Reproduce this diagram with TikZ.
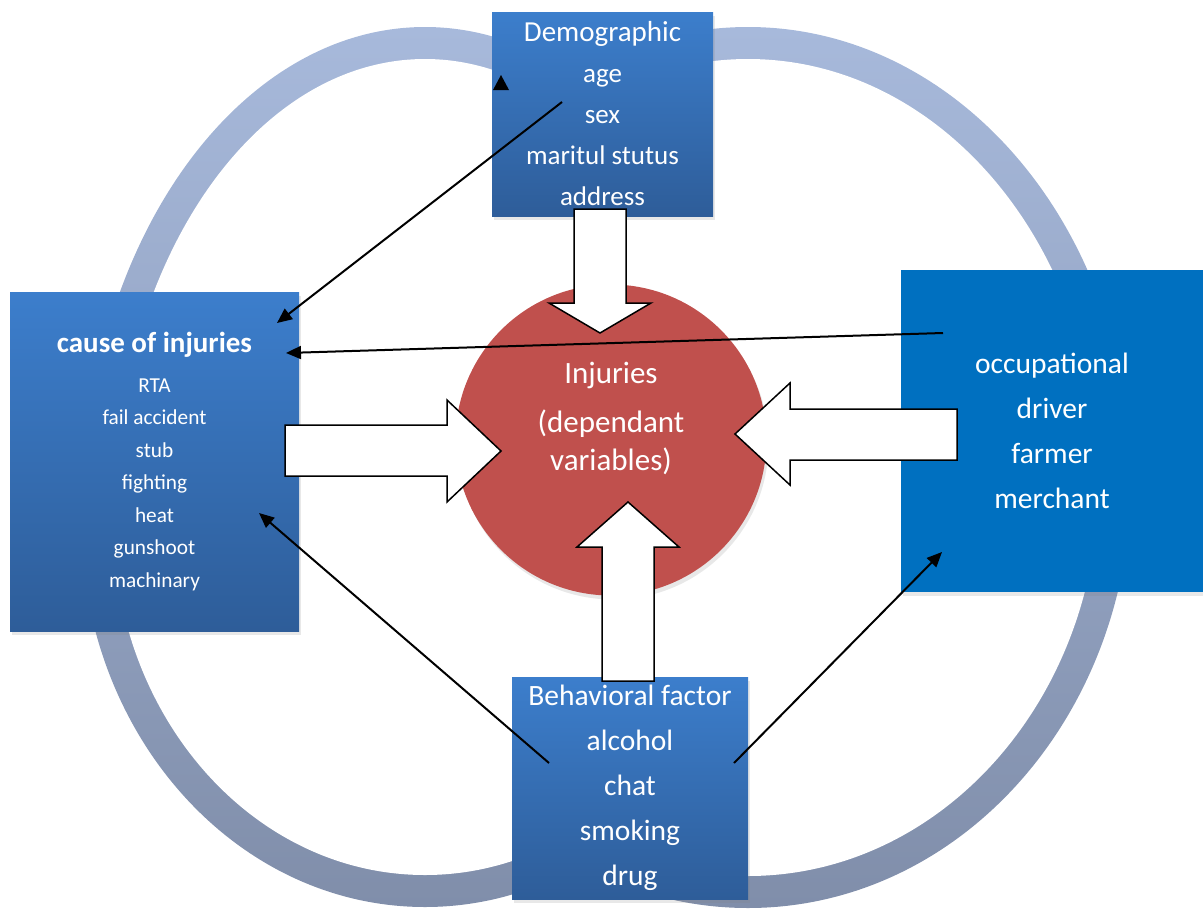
\documentclass[tikz,border=0pt]{standalone}
\usepackage{fontspec}
\setmainfont{Carlito}
\usetikzlibrary{arrows.meta,shadows}

\definecolor{boxtop}{RGB}{60,126,204}
\definecolor{boxbot}{RGB}{46,93,153}
\definecolor{occblue}{RGB}{0,112,192}
\definecolor{injred}{RGB}{192,80,77}
\definecolor{ringtop}{RGB}{167,185,219}
\definecolor{ringbot}{RGB}{128,142,170}

\tikzset{
  factor/.style={inner sep=0pt, text=white, align=center,
    drop shadow={opacity=0.18, shadow xshift=2pt, shadow yshift=-4pt}},
  grad/.style={top color=boxtop, bottom color=boxbot},
  blockarrow/.style={fill=white, draw=black, line width=1.5pt},
  link/.style={line width=2pt, -{Triangle[length=15pt,width=13pt]}}
}

\begin{document}
\begin{tikzpicture}[x=1pt,y=-1pt]
\useasboundingbox (0,0) rectangle (1203,911);

% ring behind everything
\shade[top color=ringtop, bottom color=ringbot]
  (425,27) arc[start angle=-90, end angle=0, x radius=344, y radius=493]
           arc[start angle=0, end angle=90, x radius=344, y radius=387]
           arc[start angle=90, end angle=180, x radius=344, y radius=387]
           arc[start angle=180, end angle=270, x radius=344, y radius=493]
  (748,27) arc[start angle=-90, end angle=0, x radius=383, y radius=453]
           arc[start angle=0, end angle=90, x radius=383, y radius=428]
           arc[start angle=90, end angle=180, x radius=383, y radius=428]
           arc[start angle=180, end angle=270, x radius=383, y radius=453];
\fill[white]
  (425,59) arc[start angle=-90, end angle=0, x radius=312, y radius=461]
           arc[start angle=0, end angle=90, x radius=312, y radius=355]
           arc[start angle=90, end angle=180, x radius=312, y radius=355]
           arc[start angle=180, end angle=270, x radius=312, y radius=461]
  (748,59) arc[start angle=-90, end angle=0, x radius=351, y radius=421]
           arc[start angle=0, end angle=90, x radius=351, y radius=396]
           arc[start angle=90, end angle=180, x radius=351, y radius=396]
           arc[start angle=180, end angle=270, x radius=351, y radius=421];

% dependent variable
\node[circle, fill=injred, minimum size=311pt, inner sep=0pt,
      drop shadow={opacity=0.18, shadow xshift=2pt, shadow yshift=-4pt}] (inj) at (611,440) {};
\node[text=white, align=center, font=\fontsize{31}{38}\selectfont] (injtxt) at (611,418)
     {Injuries\\[11pt](dependant\\variables)};

% factors
\node[factor, grad, minimum width=221pt, minimum height=204pt,
      font=\fontsize{27}{41}\selectfont] (demo) at (602.5,114)
     {{\fontsize{29}{41}\selectfont Demographic}\\age\\sex\\maritul stutus\\address};
\node[factor, grad, minimum width=289pt, minimum height=339pt,
      font=\fontsize{21.3}{32.5}\selectfont] (cause) at (154.5,461.5)
     {{\fontsize{29}{32.5}\selectfont\bfseries cause of injuries}\\[7.5pt]RTA\\fail accident\\stub\\fighting\\heat\\gunshoot\\machinary};
\node[factor, fill=occblue, minimum width=302pt, minimum height=322pt,
      font=\fontsize{29.5}{45}\selectfont] (occup) at (1052,431)
     {occupational\\driver\\farmer\\merchant};
\node[factor, grad, minimum width=236pt, minimum height=222pt,
      font=\fontsize{29.5}{45}\selectfont] (behav) at (630,788)
     {Behavioral factor\\alcohol\\chat\\smoking\\drug};

% block arrows into the circle
\draw[blockarrow] (574,209) -- (626,209) -- (626,303) -- (651,303) -- (600,333) -- (549,303) -- (574,303) -- cycle;
\draw[blockarrow] (285,425) -- (447,425) -- (447,400) -- (501,451) -- (447,502) -- (447,476) -- (285,476) -- cycle;
\draw[blockarrow] (957,409) -- (790,409) -- (790,383) -- (735,434) -- (790,485) -- (790,460) -- (957,460) -- cycle;
\draw[blockarrow] (602,681) -- (602,547) -- (577,547) -- (628,502) -- (679,547) -- (654,547) -- (654,681) -- cycle;

% thin links
\coordinate (demoout) at (562,102);
\coordinate (occupout) at (943,333);
\coordinate (behavoutl) at (549,763);
\coordinate (behavoutr) at (734,763);
\coordinate (causein1) at (277,323);
\coordinate (causein2) at (286,353);
\coordinate (causein3) at (259,513);
\coordinate (occupin) at (942,552);
\draw[link] (demoout) -- (causein1);
\draw[link] (occupout) -- (causein2);
\draw[link] (behavoutl) -- (causein3);
\draw[link] (behavoutr) -- (occupin);
\fill (501,75) -- (509,90) -- (493,90) -- cycle;
\end{tikzpicture}
\end{document}
